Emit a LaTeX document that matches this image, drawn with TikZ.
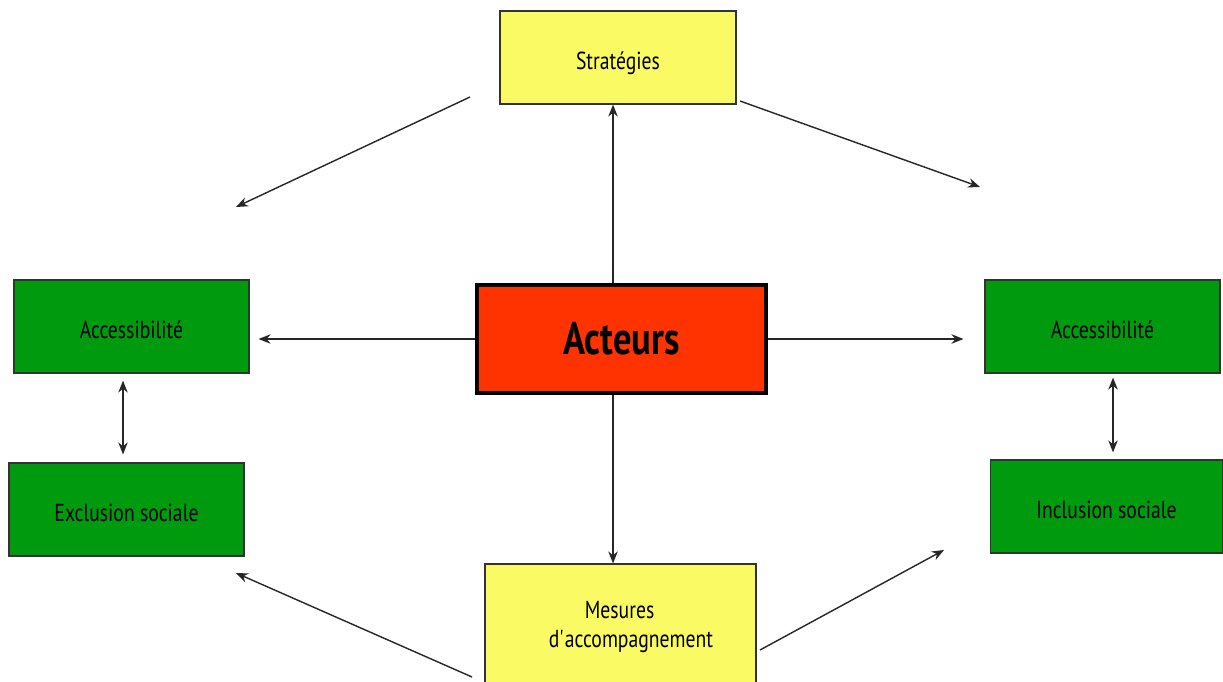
\documentclass[tikz,border=0pt]{standalone}
\usepackage{fontspec}
\setmainfont[FakeStretch=0.8]{PT Sans}
\usetikzlibrary{positioning, arrows.meta, calc}
\usepackage{xcolor}
\definecolor{vert}{RGB}{0,154,14}
\definecolor{jaune}{RGB}{250,250,100}
\definecolor{rouge}{RGB}{255,51,0}

\begin{document}
\begin{tikzpicture}[x=0.02cm, y=-0.02cm,
  boite/.style={draw=black!80, line width=0.7pt, rectangle, inner sep=0pt, text height=0.5cm, text depth=0.02cm, font=\fontsize{14}{18}\selectfont},
  fleche/.style={-{Stealth[length=0.24cm, width=0.19cm]}, line width=0.8pt, black!85},
  dfleche/.style={{Stealth[length=0.24cm, width=0.19cm]}-{Stealth[length=0.24cm, width=0.19cm]}, line width=0.8pt, black!85}]
\useasboundingbox (0,0) rectangle (1223,682);

% Boxes
\node[boite, fill=jaune, minimum width=4.72cm, minimum height=1.86cm] (strat) at (618,57.5) {Stratégies};
\node[draw, line width=1.8pt, fill=rouge, inner sep=0pt, minimum width=5.78cm, minimum height=2.16cm, font=\bfseries\fontsize{26}{30}\selectfont] (acteurs) at (621.5,339) {Acteurs};
\node[boite, fill=vert, minimum width=4.7cm, minimum height=1.86cm] (accg) at (131.5,326.5) {Accessibilité};
\node[boite, fill=vert, minimum width=4.7cm, minimum height=1.86cm] (excl) at (126.5,509.5) {Exclusion sociale};
\node[boite, fill=vert, minimum width=4.7cm, minimum height=1.86cm] (accd) at (1102.5,326.5) {Accessibilité};
\node[boite, fill=vert, minimum width=4.64cm, minimum height=1.86cm] (incl) at (1106.5,506.5) {Inclusion sociale};
\node[boite, fill=jaune, minimum width=5.42cm, minimum height=2.5cm] (mesures) at (620.5,626.5) {};
\node[font=\fontsize{14}{17}\selectfont, align=left, inner sep=0pt] (mesurestxt) at (631,627) {\hspace*{0.72cm}Mesures\\d\textquotesingle accompagnement};

% Free ends
\coordinate (axe) at (613,0);
\coordinate (axeg) at (123,0);
\coordinate (axed) at (1113,0);
\coordinate (hg1) at (470,97);
\coordinate (hg2) at (236,207);
\coordinate (hd1) at (740,101);
\coordinate (hd2) at (980,187);
\coordinate (bg1) at (472,677);
\coordinate (bg2) at (236,573);
\coordinate (bd1) at (760,650);
\coordinate (bd2) at (944,550);

% Arrows
\draw[fleche] (acteurs.north -| axe) -- (strat.south -| axe);
\draw[fleche] (acteurs.south -| axe) -- (mesures.north -| axe);
\draw[fleche, shorten >=0.18cm] (acteurs.west) -- (acteurs.west -| accg.east);
\draw[fleche, shorten >=0.42cm] (acteurs.east) -- (acteurs.east -| accd.west);
\draw[dfleche, shorten <=0.14cm, shorten >=0.16cm] (accg.south -| axeg) -- (excl.north -| axeg);
\draw[dfleche, shorten <=0.08cm, shorten >=0.14cm] (accd.south -| axed) -- (incl.north -| axed);
\draw[fleche] (hg1) -- (hg2);
\draw[fleche] (hd1) -- (hd2);
\draw[fleche] (bg1) -- (bg2);
\draw[fleche] (bd1) -- (bd2);
\end{tikzpicture}
\end{document}
